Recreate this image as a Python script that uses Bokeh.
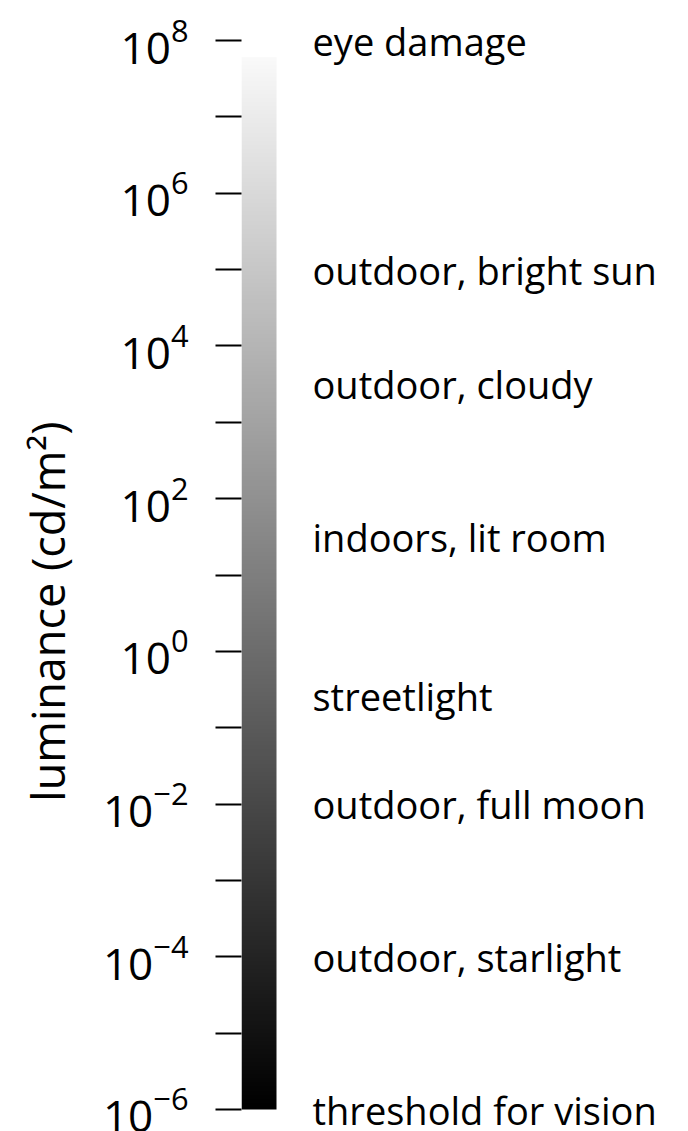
import numpy as np
from bokeh.plotting import figure
from bokeh.layouts import row
from bokeh.models import Range1d, FixedTicker, LogTickFormatter, LinearColorMapper
from bokeh.core.properties import value
from bokeh.embed import file_html
from bokeh.resources import INLINE

# ---- data ----
major_exponents = [-6, -4, -2, 0, 2, 4, 6, 8]
minor_exponents = [-5, -3, -1, 1, 3, 5, 7]
label_texts = ["eye damage", "outdoor, bright sun", "outdoor, cloudy",
               "indoors, lit room", "streetlight", "outdoor, full moon",
               "outdoor, starlight", "threshold for vision"]
label_exponents = [8, 5, 3.5, 1.5, -0.58, -2, -4, -6]
bar_bottom_exp = -6
bar_top_exp = 7.78
axis_title = "luminance (cd/m²)"
axis_title_exp = 0.52

FONT = "Open Sans"

# ---- layout ----
W, H = 688, 1131
title_w = 90
left_border = 241 - title_w
ppd = (1109 - 40) / 14.0
y_top = 8 + 40 / ppd
y_bot = -6 - (H - 1109) / ppd
frame_w = W - 241

yr = Range1d(10 ** y_bot, 10 ** y_top)

# title strip (left)
t = figure(width=title_w, height=H, output_backend="svg", toolbar_location=None,
           y_axis_type="log", x_axis_location=None, y_axis_location=None,
           x_range=Range1d(0, title_w), y_range=yr,
           min_border_left=0, min_border_right=0, min_border_top=0, min_border_bottom=0)
t.outline_line_color = None
t.grid.visible = False
t.text(x=[47], y=[10 ** axis_title_exp], text=[axis_title], angle=np.pi / 2,
       text_align="center", text_baseline="middle", text_font=value(FONT),
       text_font_size="45px", text_color="black")

# main chart
p = figure(width=W - title_w, height=H, output_backend="svg", toolbar_location=None,
           y_axis_type="log", x_axis_location=None,
           x_range=Range1d(0, frame_w), y_range=yr,
           min_border_left=left_border, min_border_right=0,
           min_border_top=0, min_border_bottom=0)
p.outline_line_color = None
p.grid.visible = False
p.background_fill_color = "white"
p.border_fill_color = "white"

# gradient bar
n = 512
grad = np.linspace(0, 1, n).reshape(n, 1)
palette = ["#%02x%02x%02x" % (v, v, v) for v in range(256)]
mapper = LinearColorMapper(palette=palette, low=0, high=1 / 0.975)
p.image(image=[grad], x=0, y=10 ** bar_bottom_exp, dw=35,
        dh=10 ** bar_top_exp - 10 ** bar_bottom_exp, color_mapper=mapper)

# axis
ax = p.yaxis[0]
ax.ticker = FixedTicker(ticks=[10.0 ** e for e in major_exponents],
                        minor_ticks=[10.0 ** e for e in minor_exponents])
ax.formatter = LogTickFormatter()
ax.axis_line_color = None
ax.major_tick_in = 0
ax.major_tick_out = 26
ax.minor_tick_in = 0
ax.minor_tick_out = 26
ax.major_tick_line_width = 2
ax.minor_tick_line_width = 2
ax.major_tick_line_color = "black"
ax.minor_tick_line_color = "black"
ax.major_label_standoff = 27
ax.major_label_text_font = FONT
ax.major_label_text_font_size = "44px"
ax.major_label_text_color = "black"

# labels
p.text(x=[71] * len(label_texts), y=[10.0 ** e for e in label_exponents],
       text=label_texts, text_align="left", text_baseline="middle",
       text_font=value(FONT), text_font_size="38px", text_color="black")

layout = row(t, p, spacing=0)
open("out.html", "w").write(file_html(layout, INLINE))
